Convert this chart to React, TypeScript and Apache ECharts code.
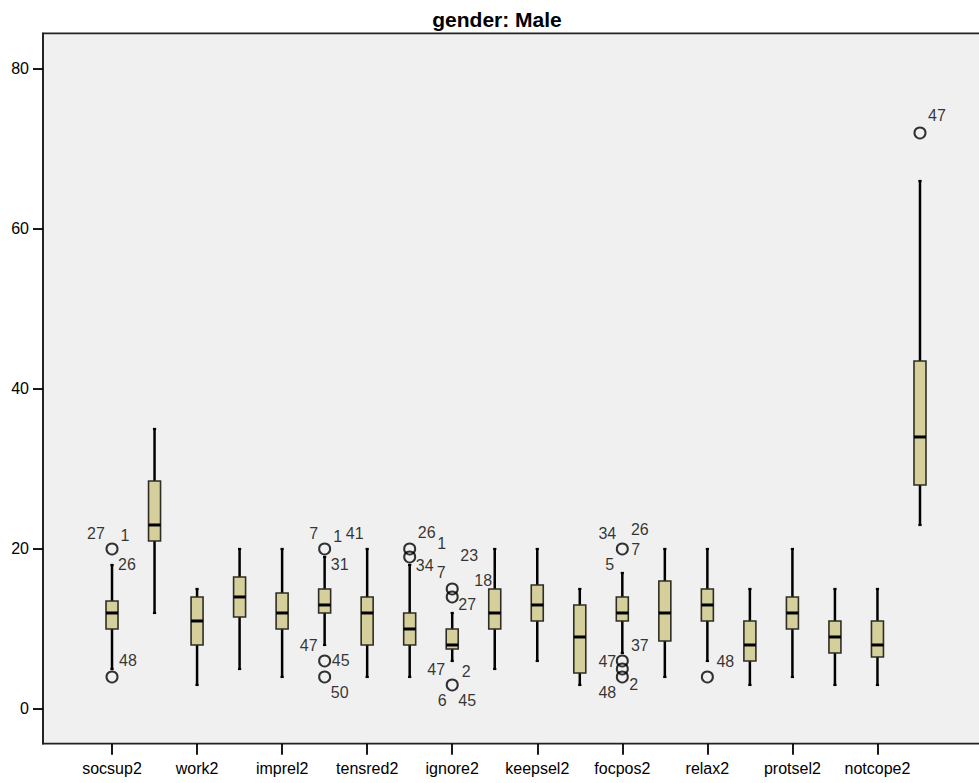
import React, { useEffect, useRef } from "react";
import * as echarts from "echarts";

const categories = [
  "socsup2", "probsol2", "work2", "worry2", "imprel2", "belong2", "tensred2", "socact2",
  "ignore2", "selfbl2", "keepsel2", "spirit2", "focpos2", "prohelp2", "relax2", "physrec2",
  "protsel2", "wishful2", "notcope2", "total2",
];
const whiskerLow = [5, 12, 3, 5, 4, 8, 4, 4, 6, 5, 6, 3, 7, 4, 6, 3, 4, 3, 3, 23];
const q1 = [10, 21, 8, 11.5, 10, 12, 8, 8, 7.5, 10, 11, 4.5, 11, 8.5, 11, 6, 10, 7, 6.5, 28];
const median = [12, 23, 11, 14, 12, 13, 12, 10, 8, 12, 13, 9, 12, 12, 13, 8, 12, 9, 8, 34];
const q3 = [13.5, 28.5, 14, 16.5, 14.5, 15, 14, 12, 10, 15, 15.5, 13, 14, 16, 15, 11, 14, 11, 11, 43.5];
const whiskerHigh = [18, 35, 15, 20, 20, 19, 20, 18, 12, 20, 20, 15, 17, 20, 20, 15, 20, 15, 15, 66];

// outliers: [category index, value]
const outliers: [number, number][] = [
  [0, 20], [0, 4], [5, 20], [5, 6], [5, 4], [7, 20], [7, 19], [8, 15], [8, 14], [8, 3],
  [12, 20], [12, 6], [12, 5], [12, 4], [14, 4], [19, 72],
];
// case labels: [category index, value, case id]
const caseLabels: [number, number, string][] = [
  [0, 20, "27"], [0, 20, "1"], [0, 20, "26"], [0, 4, "48"],
  [5, 20, "7"], [5, 20, "1"], [5, 20, "41"], [5, 20, "31"], [5, 6, "47"], [5, 6, "45"], [5, 4, "50"],
  [7, 20, "26"], [7, 20, "1"], [7, 19, "34"],
  [8, 15, "23"], [8, 15, "7"], [8, 15, "18"], [8, 14, "27"], [8, 3, "47"], [8, 3, "2"], [8, 3, "6"], [8, 3, "45"],
  [12, 20, "34"], [12, 20, "26"], [12, 20, "7"], [12, 20, "5"], [12, 6, "37"], [12, 6, "47"], [12, 4, "48"], [12, 4, "2"],
  [14, 4, "48"],
  [19, 72, "47"],
];
// pixel offsets of each case label from its point (style only)
const labelOffsets: [number, number][] = [
  [-16, -15], [13, -13], [15, 16], [16, -16],
  [-11, -15], [13, -12], [30, -15], [15, 16], [-16, -15], [16, 0], [15, 16],
  [17, -16], [32, -5], [15, 9],
  [17, -33], [-11, -16], [31, -8], [15, 8], [-16, -15], [14, -13], [-10, 16], [15, 16],
  [-15, -15], [17.5, -19], [13.5, 1], [-12.5, 16], [17.5, -15.5], [-15, 1], [-15, 16], [11.5, 8],
  [18, -15.5],
  [17, -17],
];
const yTicks = [0, 20, 40, 60, 80];

const FONT = "'Liberation Sans', Arial, Helvetica, sans-serif";
const W = 979;
const H = 783;
const FRAME_LEFT = 43;
const FRAME_TOP = 33.3;
const FRAME_BOTTOM = 743.7;
const GRID_LEFT = 90.75;
const GRID_RIGHT = 37.75;

export default function App() {
  const ref = useRef<HTMLDivElement>(null);
  useEffect(() => {
    if (!ref.current) return;
    const chart = echarts.init(ref.current, undefined, { renderer: "svg" });
    const boxData = categories.map((_, i) => [i, whiskerLow[i], q1[i], median[i], q3[i], whiskerHigh[i]]);
    const option: any = {
      animation: false,
      backgroundColor: "#ffffff",
      textStyle: { fontFamily: FONT },
      graphic: {
        elements: [
          {
            type: "rect",
            z: -1,
            shape: { x: FRAME_LEFT, y: FRAME_TOP, width: W - FRAME_LEFT + 10, height: FRAME_BOTTOM - FRAME_TOP },
            style: { fill: "#f0f0f0", stroke: "#222", lineWidth: 1.8 },
          },
          {
            type: "text",
            x: 497,
            y: 19,
            style: {
              text: "gender: Male",
              font: `bold 21px ${FONT}`,
              fill: "#000",
              textAlign: "center",
              textVerticalAlign: "middle",
            },
          },
        ],
      },
      grid: { left: GRID_LEFT, right: GRID_RIGHT, top: FRAME_TOP, bottom: H - FRAME_BOTTOM, containLabel: false },
      xAxis: {
        type: "category",
        data: categories,
        boundaryGap: true,
        axisLine: { show: false, onZero: false },
        axisTick: { show: true, interval: 1, alignWithLabel: true, length: 11, lineStyle: { color: "#000", width: 1.8 } },
        axisLabel: { interval: 1, margin: 17, fontSize: 16, color: "#000", fontFamily: FONT },
        splitLine: { show: false },
      },
      yAxis: {
        type: "value",
        min: -4.34,
        max: 84.46,
        offset: GRID_LEFT - FRAME_LEFT,
        axisLine: { show: true, onZero: false, lineStyle: { color: "#222", width: 1.8 } },
        axisTick: { show: true, length: 10, customValues: yTicks, lineStyle: { color: "#000", width: 1.8 } },
        axisLabel: { customValues: yTicks, margin: 14, fontSize: 16, color: "#000", fontFamily: FONT },
        splitLine: { show: false },
      },
      series: [
        {
          type: "custom",
          data: boxData,
          encode: { x: 0, y: [1, 2, 3, 4, 5] },
          renderItem: (_params: any, api: any) => {
            const i = api.value(0);
            const lo = api.coord([i, api.value(1)]);
            const a = api.coord([i, api.value(2)]);
            const m = api.coord([i, api.value(3)]);
            const b = api.coord([i, api.value(4)]);
            const hi = api.coord([i, api.value(5)]);
            const x = lo[0];
            const w = 12;
            const c = 1.6;
            const ws = { stroke: "#000", lineWidth: 2.5 };
            return {
              type: "group",
              children: [
                { type: "line", shape: { x1: x, y1: hi[1], x2: x, y2: b[1] }, style: ws },
                { type: "line", shape: { x1: x, y1: a[1], x2: x, y2: lo[1] }, style: ws },
                { type: "line", shape: { x1: x - c, y1: hi[1], x2: x + c, y2: hi[1] }, style: { stroke: "#000", lineWidth: 2.2 } },
                { type: "line", shape: { x1: x - c, y1: lo[1], x2: x + c, y2: lo[1] }, style: { stroke: "#000", lineWidth: 2.2 } },
                {
                  type: "rect",
                  shape: { x: x - w / 2, y: b[1], width: w, height: a[1] - b[1] },
                  style: { fill: "#d4cf9b", stroke: "#2e2e26", lineWidth: 1.6 },
                },
                { type: "line", shape: { x1: x - w / 2, y1: m[1], x2: x + w / 2, y2: m[1] }, style: { stroke: "#000", lineWidth: 3 } },
              ],
            };
          },
        },
        {
          type: "scatter",
          data: outliers,
          symbol: "circle",
          symbolSize: 11,
          itemStyle: { color: "rgba(0,0,0,0)", borderColor: "#000", borderWidth: 2 },
          z: 3,
        },
        {
          type: "scatter",
          symbol: "circle",
          symbolSize: 1,
          itemStyle: { color: "rgba(0,0,0,0)" },
          z: 4,
          data: caseLabels.map((d, k) => ({
            value: [d[0], d[1]],
            label: {
              show: true,
              formatter: d[2],
              position: "inside",
              offset: labelOffsets[k],
              align: "center",
              verticalAlign: "middle",
              fontSize: 16,
              color: "#000",
              textBorderWidth: 0,
              textBorderColor: "transparent",
              fontFamily: FONT,
            },
          })),
        },
      ],
    };
    chart.setOption(option);
    return () => chart.dispose();
  }, []);
  return <div ref={ref} style={{ position: "fixed", left: 0, top: 0, width: W, height: H }} />;
}
